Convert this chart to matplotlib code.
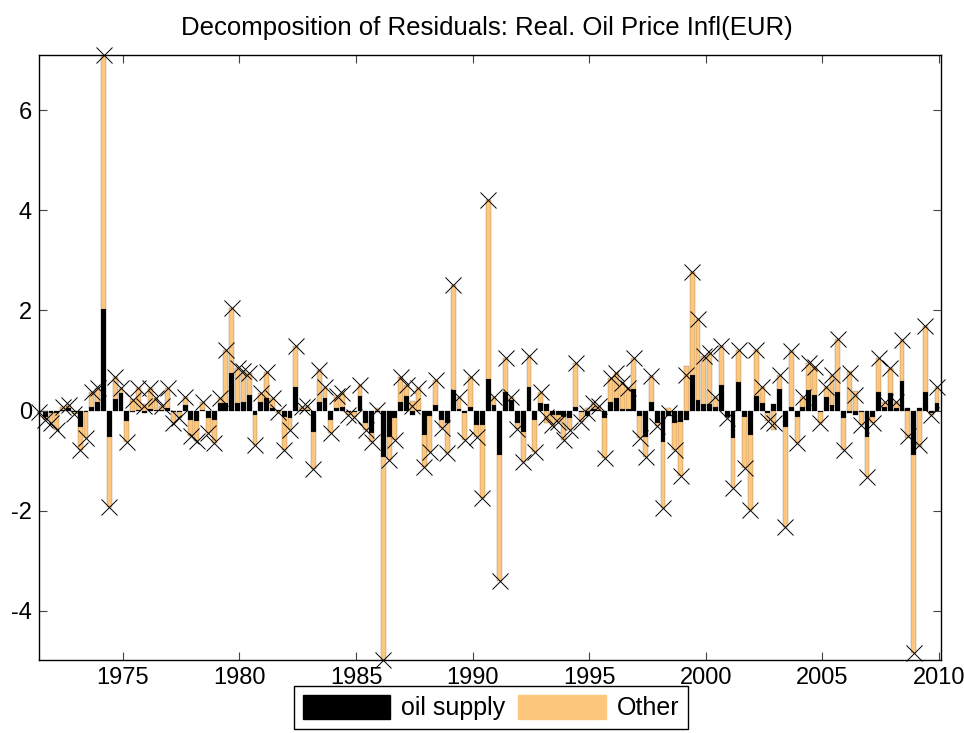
import matplotlib
matplotlib.use("Agg")
import matplotlib.pyplot as plt
from matplotlib.patches import Patch
import numpy as np

# quarterly residuals, 1971Q2 .. 2009Q4
start_year = 1971
start_quarter = 2

# oil supply contribution (black part)
oil_supply = [
    -0.02, -0.12, -0.05, -0.05, 0.02, 0.05, -0.02, -0.32, -0.03, 0.08,
    0.18, 2.03, -0.53, 0.23, 0.35, -0.20, -0.03, 0.02, -0.04, 0.03,
    0.02, 0.01, 0.05, -0.03, -0.02, 0.12, -0.18, -0.20, 0.02, -0.15,
    -0.19, 0.15, 0.15, 0.75, 0.15, 0.18, 0.31, -0.08, 0.18, 0.26,
    0.05, 0.02, -0.12, -0.15, 0.48, 0.02, 0.02, -0.42, 0.18, 0.26,
    -0.19, 0.05, 0.07, -0.02, -0.03, 0.30, -0.25, -0.44, -0.03, -0.92,
    -0.52, -0.15, 0.18, 0.30, -0.09, 0.01, -0.49, -0.10, 0.11, -0.19,
    -0.25, 0.41, 0.03, -0.05, 0.07, -0.29, -0.29, 0.63, 0.11, -0.89,
    0.38, 0.21, -0.25, -0.42, 0.48, -0.19, 0.15, 0.13, -0.08, -0.08,
    -0.12, -0.15, 0.08, -0.02, -0.10, 0.03, 0.02, -0.15, 0.18, 0.26,
    0.03, 0.03, 0.43, -0.10, -0.52, 0.18, -0.25, -0.62, -0.10, -0.25,
    -0.22, -0.19, 0.71, 0.21, 0.13, 0.13, 0.08, 0.51, -0.12, -0.55,
    0.58, -0.12, -0.49, 0.30, 0.15, -0.05, 0.13, 0.43, -0.32, 0.08,
    -0.12, 0.07, 0.41, 0.31, -0.03, 0.27, 0.11, 0.38, -0.15, -0.05,
    -0.09, -0.02, -0.52, -0.12, 0.38, 0.08, 0.35, 0.05, 0.59, 0.05,
    -0.89, 0.05, 0.38, -0.05, 0.15,
]

# total residual (the x markers)
resid_total = [
    -0.03, -0.19, -0.25, -0.38, 0.08, 0.11, -0.07, -0.78, -0.55, 0.38,
    0.45, 7.10, -1.93, 0.68, 0.45, -0.62, 0.21, 0.45, 0.10, 0.45,
    0.25, 0.10, 0.45, -0.25, -0.15, 0.28, -0.50, -0.60, 0.18, -0.45,
    -0.65, 0.25, 1.20, 2.05, 0.85, 0.80, 0.75, -0.69, 0.35, 0.78,
    0.26, -0.02, -0.79, -0.39, 1.28, 0.08, 0.10, -1.17, 0.81, 0.48,
    -0.45, 0.30, 0.35, -0.08, -0.12, 0.51, -0.39, -0.62, 0.02, -4.98,
    -0.99, -0.59, 0.68, 0.51, 0.10, 0.45, -1.12, -0.82, 0.61, -0.35,
    -0.85, 2.51, 0.28, -0.59, 0.68, -0.52, -1.75, 4.20, 0.28, -3.40,
    1.05, 0.28, -0.37, -1.02, 1.08, -0.82, 0.38, -0.12, -0.28, -0.22,
    -0.59, -0.39, 0.95, -0.22, -0.05, 0.15, 0.10, -0.95, 0.65, 0.75,
    0.55, 0.45, 1.05, -0.55, -0.92, 0.69, -0.30, -1.95, -0.05, -0.79,
    -1.31, 0.71, 2.76, 1.83, 1.08, 1.15, 0.28, 1.28, -0.15, -1.55,
    1.21, -1.15, -1.99, 1.21, 0.48, -0.20, -0.25, 0.71, -2.32, 1.18,
    -0.65, 0.28, 0.95, 0.88, -0.25, 0.48, 0.71, 1.43, -0.79, 0.75,
    0.31, -0.28, -1.32, -0.25, 1.05, 0.18, 0.85, 0.18, 1.40, -0.50,
    -4.85, -0.68, 1.69, -0.09, 0.48,
]

xtick_years = [1975, 1980, 1985, 1990, 1995, 2000, 2005, 2010]
ytick_vals = [-4, -2, 0, 2, 4, 6]
legend_labels = ["oil supply", "Other"]
title_txt = "Decomposition of Residuals: Real. Oil Price Infl(EUR)"

oil = np.array(oil_supply)
tot = np.array(resid_total)
other = tot - oil
n = len(oil)
# matlab datenum style: first day of last month of each quarter
t = start_year + (3 * start_quarter - 1) / 12 + 0.25 * np.arange(n)

orange = "#FEC77E"
plt.rcParams["font.family"] = ["Liberation Sans", "DejaVu Sans"]
plt.rcParams["axes.unicode_minus"] = False

fig = plt.figure(figsize=(9.64, 7.33), dpi=100)
ax = fig.add_axes([39 / 964, 73 / 733, 902 / 964, 605 / 733])

w = 0.21
ax.bar(t, oil, width=w, color="k", edgecolor="k", linewidth=0.2)
# positive and negative parts stack separately
bot = np.where(np.sign(other) == np.sign(oil), oil, 0.0)
ax.bar(t, other, width=w, bottom=bot, color=orange, edgecolor="#6b5a45", linewidth=0.2)
ax.plot(t, tot, "x", color="k", ms=12, mew=0.7, clip_on=False, zorder=5)

ax.set_xlim(1971.40, 2010.09)
ax.set_ylim(tot.min(), tot.max())
ax.set_xticks(xtick_years)
ax.set_yticks(ytick_vals)
ax.tick_params(direction="in", top=True, right=True, length=6, width=0.8,
               labelsize=17, pad=5, color="#444444")
for s in ax.spines.values():
    s.set_linewidth(1.0)

fig.text(487 / 964, 1 - 28 / 733, title_txt, ha="center", va="center", fontsize=18.5)

handles = [Patch(facecolor="k", edgecolor="k"), Patch(facecolor=orange, edgecolor=orange)]
leg = fig.legend(handles, legend_labels, loc="upper center",
                 bbox_to_anchor=(491 / 964, 1 - 686 / 733), ncol=2,
                 fancybox=False, edgecolor="k", framealpha=1, fontsize=18,
                 handlelength=3.5, handleheight=1.1, handletextpad=0.45,
                 columnspacing=0.5, borderpad=0.35, borderaxespad=0)
leg.get_frame().set_linewidth(1.0)

fig.savefig("out.png", dpi=100)
